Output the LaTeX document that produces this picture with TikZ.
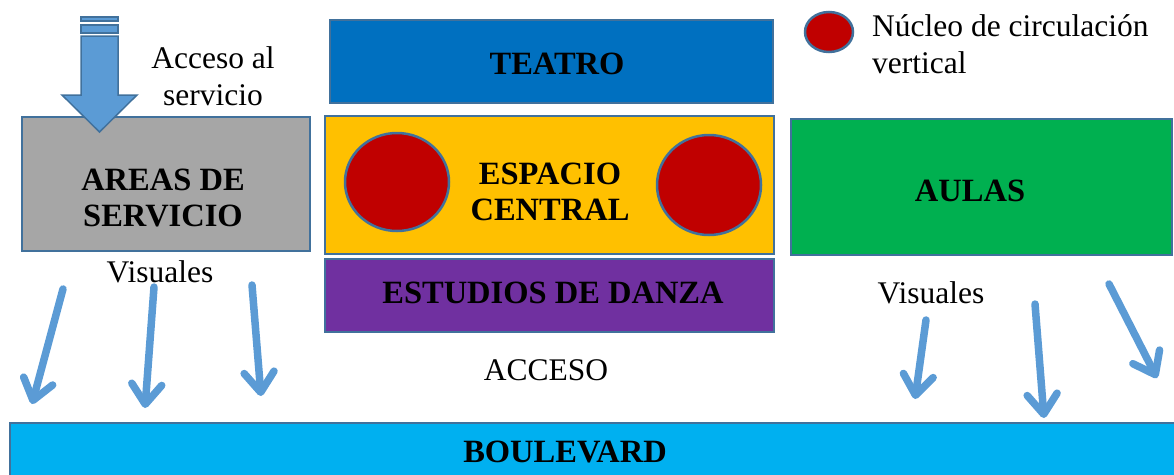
\documentclass[tikz,border=0pt]{standalone}
\usepackage{fontspec}
\setmainfont{Liberation Serif}
\usetikzlibrary{arrows.meta}
\definecolor{bordc}{HTML}{41719C}
\definecolor{arrc}{HTML}{5B9BD5}
\definecolor{teatroc}{HTML}{0070C0}
\definecolor{espc}{HTML}{FFC000}
\definecolor{danzac}{HTML}{7030A0}
\definecolor{aulac}{HTML}{00B050}
\definecolor{boulc}{HTML}{00B0F0}
\definecolor{grisc}{HTML}{A6A6A6}
\definecolor{nucc}{HTML}{C00000}
\tikzset{
  zone/.style={draw=bordc, line width=2pt},
  bigtxt/.style={font=\fontsize{32.5}{36}\selectfont\bfseries, align=center, inner sep=0pt},
  plaintxt/.style={font=\fontsize{31.5}{37}\selectfont, align=center, inner sep=0pt},
  nucleo/.style={draw=bordc, line width=2.5pt, fill=nucc},
  visarrow/.style={draw=arrc, line width=7.5pt, line cap=round,
    -{Straight Barb[length=20pt, width=30pt, line width=7.5pt, round]}},
}
\begin{document}
\begin{tikzpicture}[x=1pt, y=-1pt]
\useasboundingbox (0,0) rectangle (1174,474);
% boulevard
\fill[boulc] (10,423) rectangle (1180,480);
\draw[bordc, line width=2pt] (1180,423) -- (10,423) -- (10,480);
\node[bigtxt] (boul) at (565,452) {BOULEVARD};
% boxes
\draw[zone, fill=teatroc] (330,20) rectangle (773,103);
\node[bigtxt] (teatro) at (557,64) {TEATRO};
\draw[zone, fill=espc] (325,116) rectangle (774,254);
\draw[zone, fill=danzac] (325,259) rectangle (774,332);
\node[bigtxt] (danza) at (553,293) {ESTUDIOS DE DANZA};
\draw[zone, fill=aulac] (791,119) rectangle (1172,255);
\node[bigtxt] (aulas) at (970,191) {AULAS};
\draw[zone, fill=grisc] (22,117) rectangle (310,251);
\node[bigtxt] (areas) at (163,198) {AREAS DE\\SERVICIO};
% nucleos
\draw[nucleo] (397,182) ellipse [x radius=52, y radius=49];
\draw[nucleo] (709,185) ellipse [x radius=52, y radius=50];
\node[bigtxt] (esp) at (550,192) {ESPACIO\\CENTRAL};
% legend
\draw[nucleo] (829,32) ellipse [x radius=24, y radius=20];
\node[plaintxt, align=left, anchor=north west] (leg) at (872,14) {Núcleo de circulación\\vertical};
% access arrow
\draw[bordc, line width=1.5pt, fill=arrc] (81,17) rectangle (118,21);
\draw[bordc, line width=1.5pt, fill=arrc] (81,25) rectangle (118,33);
\draw[bordc, line width=1.5pt, fill=arrc, line join=miter]
  (81,36) -- (118,36) -- (118,95) -- (137,95) -- (99.5,132) -- (62,95) -- (81,95) -- cycle;
\node[plaintxt] (acc) at (213,76) {Acceso al\\servicio};
% labels
\node[plaintxt] (vis1) at (160,272) {Visuales};
\node[plaintxt] (vis2) at (931,293) {Visuales};
\node[plaintxt] (acceso) at (546,370) {ACCESO};
% view arrows
\coordinate (a1s) at (63,289); \coordinate (a1e) at (32,404);
\coordinate (a2s) at (154,287); \coordinate (a2e) at (145,408);
\coordinate (a3s) at (252,285); \coordinate (a3e) at (261,396);
\coordinate (a4s) at (926,320); \coordinate (a4e) at (915,399);
\coordinate (a5s) at (1035,304); \coordinate (a5e) at (1044,418);
\coordinate (a6s) at (1109,284); \coordinate (a6e) at (1157,378);
\foreach \i in {1,...,6} \draw[visarrow] (a\i s) -- (a\i e);
\end{tikzpicture}
\end{document}
